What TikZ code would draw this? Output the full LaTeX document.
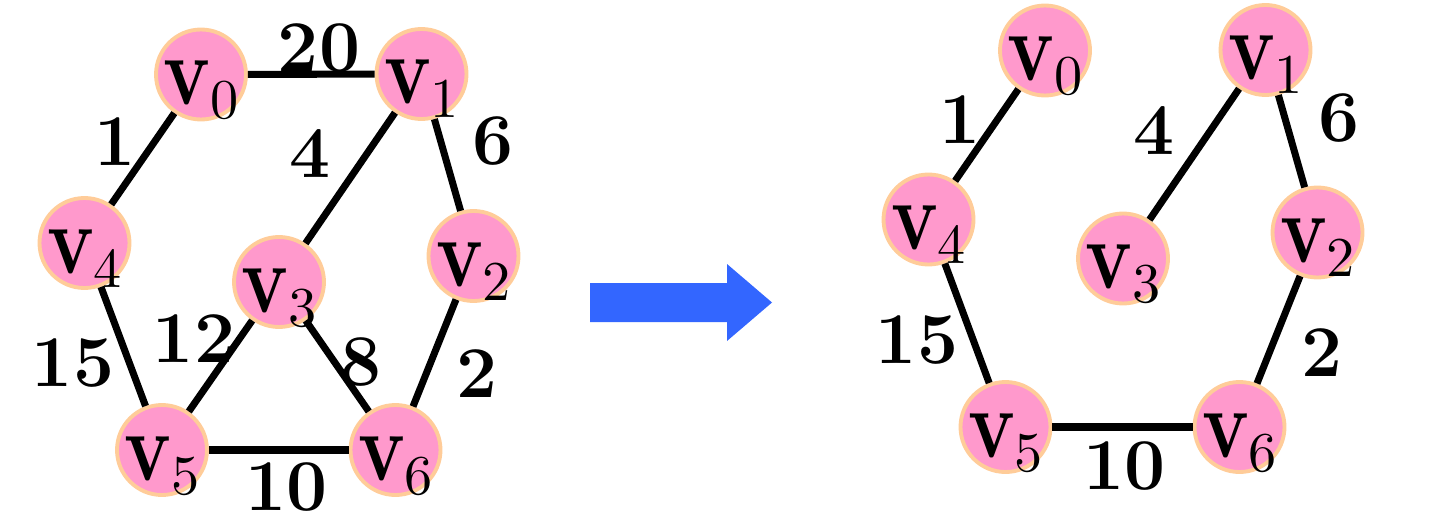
\documentclass[tikz,border=0pt]{standalone}
\usepackage{graphicx}
\usepackage{fontspec}
\usepackage{tikz}
\usetikzlibrary{positioning}
\newfontfamily\subfont{lmroman10-regular.otf}
\definecolor{vpink}{HTML}{FF99CC}
\definecolor{vrim}{HTML}{FFCC99}
\definecolor{arrowblue}{HTML}{3366FF}
\newcommand{\vname}[1]{\raisebox{-0.3cm}[0pt][0pt]{\makebox[0pt][c]{%
  \fontsize{28}{30}\selectfont\scalebox{0.8}[1]{\bfseries v}%
  \raisebox{-1.4mm}{\subfont\fontsize{16}{18}\selectfont #1}}}}

\begin{document}
\begin{tikzpicture}[
  vert/.style={circle, draw=vrim, fill=vpink, line width=1.1pt, minimum size=0.9cm, inner sep=0pt},
  edge/.style={line width=2pt},
  wt/.style={inner sep=0pt, font=\fontsize{20.74}{25}\selectfont\bfseries}
]
\useasboundingbox (0,0) rectangle (14.41,-5.17);

% original graph
\node[vert] (a0) at (2.01,-0.745) {\vname{0}};
\node[vert] (a1) at (4.215,-0.74) {\vname{1}};
\node[vert] (a4) at (0.845,-2.43) {\vname{4}};
\node[vert] (a3) at (2.79,-2.82) {\vname{3}};
\node[vert] (a2) at (4.735,-2.56) {\vname{2}};
\node[vert] (a5) at (1.62,-4.50) {\vname{5}};
\node[vert] (a6) at (3.955,-4.50) {\vname{6}};

\draw[edge] (a0) -- (a1);
\draw[edge] (a0) -- (a4);
\draw[edge] (a1) -- (a3);
\draw[edge] (a1) -- (a2);
\draw[edge] (a4) -- (a5);
\draw[edge] (a3) -- (a5);
\draw[edge] (a3) -- (a6);
\draw[edge] (a2) -- (a6);
\draw[edge] (a5) -- (a6);

\node[wt] (wa01) at (3.19,-0.485) {20};
\node[wt] (wa04) at (1.15,-1.415) {1};
\node[wt] (wa13) at (3.10,-1.54) {4};
\node[wt] (wa12) at (4.935,-1.415) {6};
\node[wt] (wa45) at (0.73,-3.635) {15};
\node[wt] (wa35) at (1.94,-3.39) {12};
\node[wt] (wa36) at (3.615,-3.625) {8};
\node[wt] (wa26) at (4.775,-3.735) {2};
\node[wt] (wa56) at (2.865,-4.87) {10};

% arrow
\fill[arrowblue] (5.90,-2.83) -- (7.27,-2.83) -- (7.27,-2.64) -- (7.72,-3.025)
  -- (7.27,-3.41) -- (7.27,-3.22) -- (5.90,-3.22) -- cycle;

% spanning tree
\node[vert] (b0) at (10.45,-0.505) {\vname{0}};
\node[vert] (b1) at (12.655,-0.50) {\vname{1}};
\node[vert] (b4) at (9.285,-2.195) {\vname{4}};
\node[vert] (b3) at (11.23,-2.585) {\vname{3}};
\node[vert] (b2) at (13.175,-2.325) {\vname{2}};
\node[vert] (b5) at (10.055,-4.27) {\vname{5}};
\node[vert] (b6) at (12.395,-4.27) {\vname{6}};

\draw[edge] (b0) -- (b4);
\draw[edge] (b1) -- (b3);
\draw[edge] (b1) -- (b2);
\draw[edge] (b4) -- (b5);
\draw[edge] (b2) -- (b6);
\draw[edge] (b5) -- (b6);

\node[wt] (wb04) at (9.60,-1.195) {1};
\node[wt] (wb13) at (11.535,-1.31) {4};
\node[wt] (wb12) at (13.385,-1.185) {6};
\node[wt] (wb45) at (9.17,-3.40) {15};
\node[wt] (wb26) at (13.215,-3.525) {2};
\node[wt] (wb56) at (11.245,-4.665) {10};
\end{tikzpicture}
\end{document}
